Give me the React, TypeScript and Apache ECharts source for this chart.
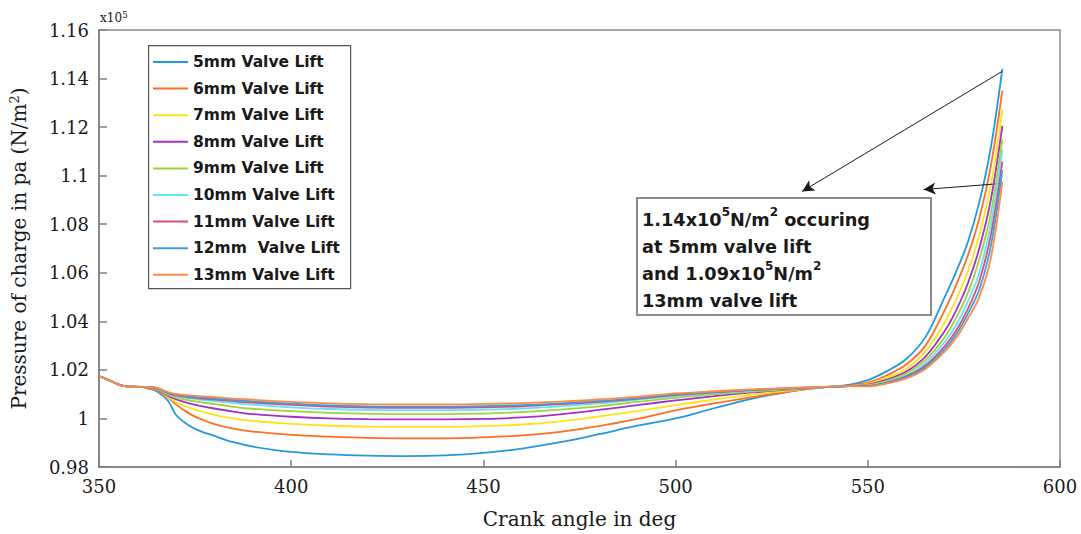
import React, { useEffect, useRef } from "react";
import * as echarts from "echarts";

const crankAngle = [350,353,356,358,361,363,365,368,370,373,376,380,385,390,400,410,420,430,440,450,460,470,480,490,500,510,520,530,536,540,545,550,555,560,565,570,573,576,579,582,585];

const lift5 = [1.0175,1.0155,1.0135,1.0131,1.013,1.0122,1.0112,1.0072,1.0015,0.9975,0.995,0.9928,0.9902,0.9884,0.9862,0.9852,0.9847,0.9845,0.9848,0.9858,0.9876,0.9902,0.9935,0.997,1.0,1.0042,1.0082,1.0112,1.0125,1.0131,1.0138,1.0158,1.0195,1.0245,1.0335,1.050,1.0605,1.0725,1.089,1.1115,1.144];
const lift6 = [1.0175,1.0155,1.0135,1.0131,1.013,1.0124,1.0115,1.0085,1.0058,1.0025,1.0,0.9977,0.9958,0.9946,0.9932,0.9925,0.992,0.9918,0.9918,0.9922,0.993,0.9945,0.9968,0.9998,1.0033,1.0062,1.0088,1.0112,1.0124,1.013,1.0135,1.0148,1.0178,1.0222,1.030,1.0445,1.055,1.067,1.0825,1.104,1.135];
const lift7 = [1.0175,1.0155,1.0135,1.0131,1.013,1.0125,1.0118,1.0088,1.0068,1.0047,1.0032,1.0015,1.0,0.999,0.9978,0.997,0.9966,0.9965,0.9965,0.9968,0.9975,0.9988,1.0008,1.003,1.0055,1.0078,1.0098,1.0115,1.0124,1.013,1.0134,1.0142,1.0168,1.0205,1.0275,1.0395,1.049,1.0605,1.0755,1.096,1.127];
const lift8 = [1.0175,1.0155,1.0135,1.0131,1.013,1.0126,1.012,1.0093,1.0079,1.0064,1.0053,1.0041,1.0028,1.0018,1.0007,1.0,0.9997,0.9996,0.9996,0.9998,1.0004,1.0017,1.0035,1.0055,1.0074,1.0092,1.0107,1.0119,1.0125,1.013,1.0133,1.0139,1.016,1.0193,1.0255,1.036,1.0445,1.0555,1.070,1.090,1.1205];
const lift9 = [1.0175,1.0155,1.0135,1.0131,1.013,1.0127,1.0122,1.0097,1.0087,1.0076,1.0068,1.0059,1.0048,1.004,1.003,1.0023,1.0019,1.0018,1.0018,1.002,1.0026,1.0036,1.005,1.0068,1.0085,1.0099,1.0111,1.0121,1.0126,1.013,1.0133,1.0137,1.0155,1.0185,1.024,1.0335,1.0415,1.0515,1.0655,1.0845,1.115];
const lift10 = [1.0175,1.0155,1.0135,1.0131,1.013,1.0128,1.0124,1.01,1.0092,1.0084,1.0078,1.0071,1.0063,1.0056,1.0046,1.0039,1.0035,1.0034,1.0034,1.0036,1.0041,1.005,1.0062,1.0077,1.0092,1.0104,1.0115,1.0123,1.0127,1.013,1.0133,1.0135,1.0151,1.0178,1.0228,1.0315,1.0385,1.048,1.060,1.080,1.1106];
const lift11 = [1.0175,1.0155,1.0135,1.0131,1.013,1.0128,1.0125,1.0103,1.0095,1.0088,1.0083,1.0078,1.0071,1.0065,1.0056,1.0049,1.0045,1.0044,1.0044,1.0046,1.005,1.0058,1.0068,1.0081,1.0096,1.0107,1.0117,1.0124,1.0128,1.013,1.0133,1.0134,1.0148,1.0173,1.0218,1.0298,1.0362,1.045,1.0565,1.0755,1.1058];
const lift12 = [1.0175,1.0155,1.0135,1.0131,1.013,1.0129,1.0126,1.0105,1.0098,1.0091,1.0087,1.0082,1.0076,1.007,1.0061,1.0054,1.005,1.0049,1.0049,1.0051,1.0055,1.0062,1.0072,1.0084,1.0099,1.0109,1.0118,1.0125,1.0128,1.013,1.0133,1.0133,1.0146,1.0169,1.0211,1.0286,1.0347,1.043,1.053,1.071,1.1023];
const lift13 = [1.0175,1.0155,1.0135,1.0131,1.013,1.013,1.0127,1.0108,1.0101,1.0096,1.0092,1.0088,1.0082,1.0077,1.0068,1.0062,1.0059,1.0058,1.0058,1.006,1.0063,1.0069,1.0078,1.0089,1.0103,1.0112,1.012,1.0126,1.0129,1.0131,1.0133,1.0132,1.0144,1.0165,1.0204,1.0275,1.0332,1.041,1.050,1.066,1.0975];

const seriesNames = ["5mm Valve Lift","6mm Valve Lift","7mm Valve Lift","8mm Valve Lift","9mm Valve Lift","10mm Valve Lift","11mm Valve Lift","12mm  Valve Lift","13mm Valve Lift"];
const seriesValues = [lift5, lift6, lift7, lift8, lift9, lift10, lift11, lift12, lift13];
const seriesColors = ["#2299dd","#ff6e22","#ffe21a","#a032c4","#a2d23a","#5ee6f4","#d84f78","#3a9fe0","#ff8a45"];

// annotation arrows (data coordinates)
const arrow1 = [[585, 1.143], [532.9, 1.0935]];
const arrow2 = [[585, 1.0968], [564.5, 1.0943]];

const yTickFormat = (v: number) => String(Number(v.toFixed(2)));

export default function App() {
  const ref = useRef<HTMLDivElement>(null);
  useEffect(() => {
    if (!ref.current) return;
    const chart = echarts.init(ref.current, undefined, { renderer: "svg" });
    const series: any[] = seriesNames.map((name, i) => ({
      name,
      type: "line",
      data: crankAngle.map((x, j) => [x, seriesValues[i][j]]),
      symbol: "none",
      smooth: 0.35,
      lineStyle: { width: 1.8, color: seriesColors[i] },
      itemStyle: { color: seriesColors[i] },
      z: 2 + i,
    }));
    series[0].markLine = {
      silent: true,
      symbol: ["none", "arrow"],
      symbolSize: [9, 12],
      label: { show: false },
      lineStyle: { color: "#1a1a1a", width: 1, type: "solid" },
      data: [
        [{ coord: arrow1[0] }, { coord: arrow1[1] }],
        [{ coord: arrow2[0] }, { coord: arrow2[1] }],
      ],
    };
    chart.setOption({
      animation: false,
      backgroundColor: "#ffffff",
      grid: {
        left: 98, right: 21, top: 30, bottom: 66,
        show: true, borderColor: "#8a8a8a", borderWidth: 1.5,
        backgroundColor: "transparent",
      },
      legend: {
        data: seriesNames,
        orient: "vertical",
        left: 148, top: 46,
        padding: [8, 6, 6, 5],
        icon: "rect",
        itemWidth: 35, itemHeight: 2,
        itemGap: 10.6,
        textStyle: {
          fontFamily: "DejaVu Sans", fontWeight: "bold", fontSize: 15.5,
          color: "#1a1a1a", lineHeight: 16,
        },
        selectedMode: false,
      },
      xAxis: {
        type: "value", min: 350, max: 600, interval: 50,
        name: "Crank angle in deg", nameLocation: "middle", nameGap: 42,
        nameTextStyle: { fontFamily: "DejaVu Serif", fontSize: 20, color: "#1a1a1a" },
        axisLine: { show: true, lineStyle: { color: "#7f7f7f", width: 1.5 } },
        axisTick: { show: true, inside: true, length: 7, lineStyle: { color: "#7f7f7f", width: 1.5 } },
        axisLabel: { fontFamily: "DejaVu Serif", fontSize: 18, color: "#1a1a1a", margin: 10 },
        splitLine: { show: false },
      },
      yAxis: {
        type: "value", min: 0.98, max: 1.16, interval: 0.02,
        name: "Pressure of charge in pa (N/m{sup|2})", nameLocation: "middle", nameGap: 70,
        nameTextStyle: {
          fontFamily: "DejaVu Serif", fontSize: 20, color: "#1a1a1a",
          rich: { sup: { fontFamily: "DejaVu Serif", fontSize: 13, verticalAlign: "top", padding: [0, 0, 8, 0], color: "#1a1a1a" } },
        },
        axisLine: { show: true, lineStyle: { color: "#7f7f7f", width: 1.5 } },
        axisTick: { show: true, inside: true, length: 8, lineStyle: { color: "#7f7f7f", width: 1.5 } },
        axisLabel: { fontFamily: "DejaVu Serif", fontSize: 18, color: "#1a1a1a", margin: 10, formatter: yTickFormat },
        splitLine: { show: false },
      },
      graphic: [
        {
          type: "rect", left: 148, top: 45, z: 0, silent: true,
          shape: { width: 202, height: 243 },
          style: { fill: "#ffffff", stroke: "#555555", lineWidth: 1.2 },
        },
        {
          type: "rect", left: 636, top: 197, z: 10, silent: true,
          shape: { width: 294, height: 117 },
          style: { fill: "#ffffff", stroke: "#8a8a8a", lineWidth: 2 },
        },
        {
          type: "text", left: 642, top: 206, z: 11, silent: true,
          style: {
            text: "{n|1.14x10}{s|5}{n|N/m}{s|2}{n| occuring}\n{n|at 5mm valve lift}\n{n|and 1.09x10}{s|5}{n|N/m}{s|2}\n{n|13mm valve lift}",
            fill: "#1a1a1a",
            rich: {
              n: { fontFamily: "DejaVu Sans", fontWeight: "bold", fontSize: 17.7, lineHeight: 27, fill: "#1a1a1a" },
              s: { fontFamily: "DejaVu Sans", fontWeight: "bold", fontSize: 12, lineHeight: 27, verticalAlign: "top", fill: "#1a1a1a" },
            },
          },
        },
        {
          type: "text", left: 100, top: 10, silent: true,
          style: {
            text: "{a|x10}{b|5}",
            fill: "#1a1a1a",
            rich: {
              a: { fontFamily: "DejaVu Serif", fontSize: 12, lineHeight: 16, fill: "#1a1a1a" },
              b: { fontFamily: "DejaVu Serif", fontSize: 9, lineHeight: 16, verticalAlign: "top", fill: "#1a1a1a" },
            },
          },
        },
      ],
      series,
    });
    return () => chart.dispose();
  }, []);
  return (
    <div
      ref={ref}
      style={{ position: "fixed", left: 0, top: 0, width: 1081, height: 534, background: "#fff" }}
    />
  );
}
